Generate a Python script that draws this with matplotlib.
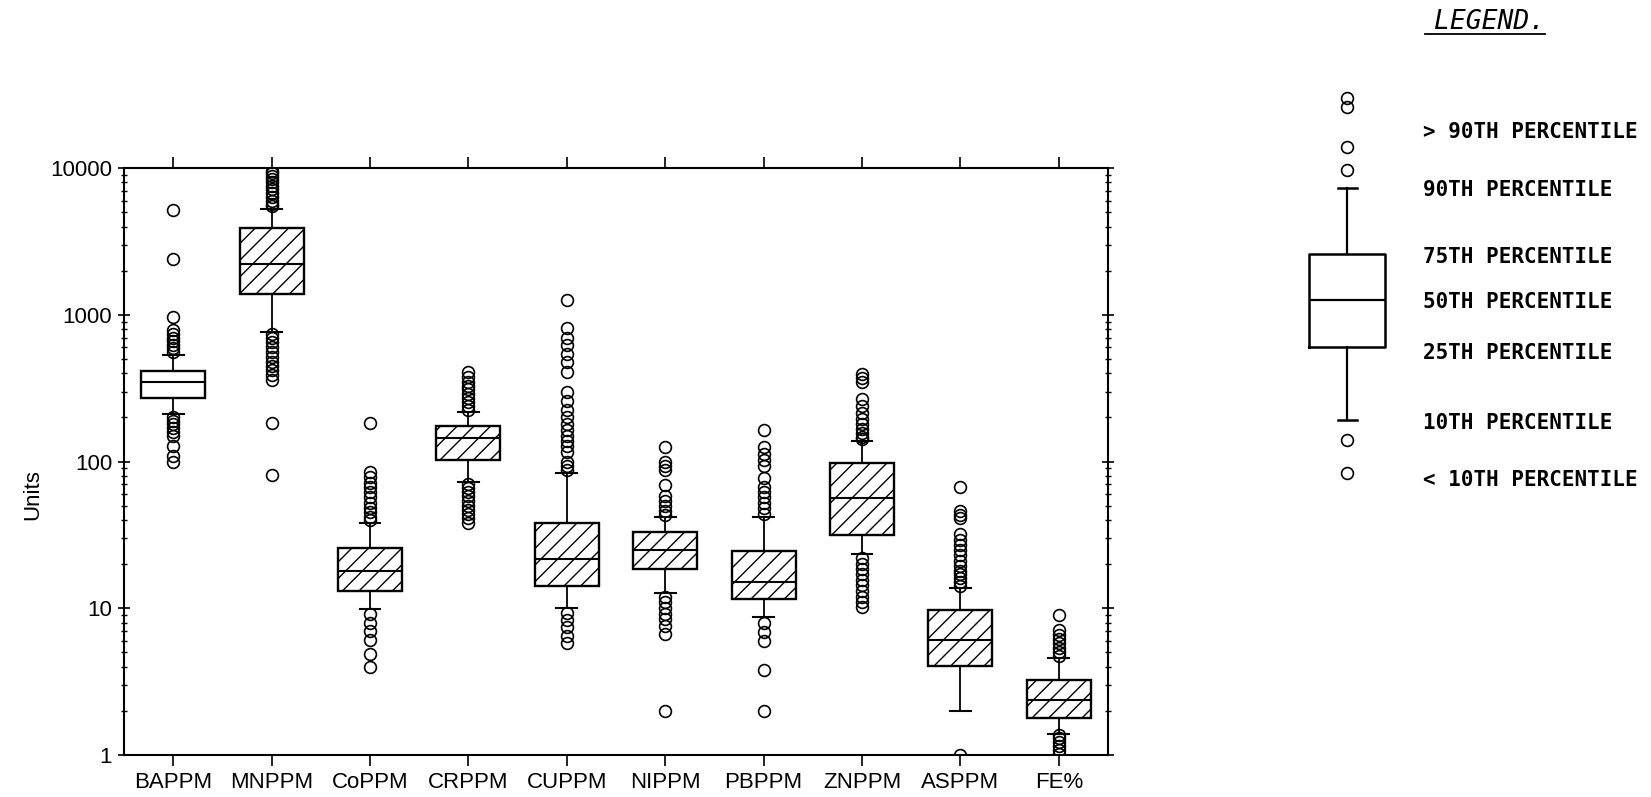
# Importar las bibliotecas necesarias
import matplotlib.pyplot as plt
from matplotlib.lines import Line2D
from matplotlib.ticker import FuncFormatter, LogLocator, NullFormatter

plt.rcParams['font.family'] = ['Liberation Sans', 'DejaVu Sans']
plt.rcParams['hatch.linewidth'] = 1.0

# Datos (percentiles por elemento)
categorias = ['BAPPM', 'MNPPM', 'CoPPM', 'CRPPM', 'CUPPM', 'NIPPM', 'PBPPM', 'ZNPPM', 'ASPPM', 'FE%']
p10 = [210, 760, 9.9, 73, 10.0, 12.7, 8.7, 23.3, 2.0, 1.4]
p25 = [270, 1380, 13.1, 102, 14.2, 18.5, 11.5, 31.4, 4.07, 1.79]
p50 = [349, 2220, 17.9, 144, 21.8, 24.9, 15.2, 56.7, 6.04, 2.37]
p75 = [415, 3890, 25.9, 175, 38.2, 33.0, 24.6, 97.4, 9.8, 3.27]
p90 = [530, 5300, 38.0, 217, 84, 42, 42, 138, 13.8, 4.58]
atipicos = [
    [5170, 2420, 960, 790, 740, 700, 660, 620, 590, 560, 200, 190, 180, 170, 160, 150, 128, 110, 100],
    [9600, 9200, 8800, 8400, 8000, 7600, 7200, 6800, 6400, 6000, 5700, 5500,
     740, 700, 650, 600, 560, 520, 480, 450, 420, 390, 360, 184, 81],
    [184, 85, 78, 72, 67, 62, 57, 52, 48, 45, 42, 40, 9.1, 8.0, 7.0, 6.1, 4.9, 4.0],
    [406, 380, 350, 330, 310, 290, 270, 255, 240, 225, 70, 66, 62, 58, 54, 50, 47, 44, 41, 38],
    [1255, 815, 700, 620, 540, 480, 410, 300, 260, 225, 200, 180, 165, 150, 138, 127, 117,
     100, 93, 87, 9.3, 8.3, 7.4, 6.5, 5.8],
    [125, 99, 93, 87, 69, 58, 54, 50, 46, 43, 12, 11, 10, 9.2, 8.4, 7.6, 6.7, 2.0],
    [163, 125, 112, 103, 93, 77, 67, 62, 57, 52, 48, 44, 7.9, 6.9, 6.0, 3.8, 2.0],
    [395, 370, 350, 265, 240, 215, 195, 180, 168, 157, 147, 142,
     21.9, 20, 18.5, 17, 15.6, 14.4, 13.2, 12, 11, 10.2],
    [67, 46, 43, 41, 32, 29, 27, 25, 23, 21, 19.5, 18, 17, 16, 15, 14.2, 1.0],
    [8.97, 7.1, 6.6, 6.2, 5.8, 5.4, 5.0, 4.7, 1.37, 1.3, 1.22, 1.15, 1.08, 1.02],
]

# Leyenda (caja esquematica, unidades arbitrarias)
leyenda_p = [65, 138, 185, 231, 297]
leyenda_atipicos = [387, 378, 338, 315, 45, 12]
leyenda_textos = ['> 90TH PERCENTILE', '90TH PERCENTILE', '75TH PERCENTILE', '50TH PERCENTILE',
                  '25TH PERCENTILE', '10TH PERCENTILE', '< 10TH PERCENTILE']
leyenda_y = [353, 295, 228, 183, 132, 62, 5]


def armar_stats(lo, q1, med, q3, hi, fl, etiqueta):
    return dict(whislo=lo, q1=q1, med=med, q3=q3, whishi=hi, fliers=fl, label=etiqueta)


fig = plt.figure(figsize=(16.51, 7.97), dpi=100)
ax = fig.add_axes([0.0751, 0.0527, 0.5960, 0.7363])

stats = [armar_stats(p10[i], p25[i], p50[i], p75[i], p90[i], atipicos[i], categorias[i])
         for i in range(len(categorias))]

estilo_flier = dict(marker='o', markerfacecolor='none', markeredgecolor='black',
                    markersize=8.5, markeredgewidth=1.2, linestyle='none')

res = ax.bxp(stats, positions=range(1, len(categorias) + 1), widths=0.65, capwidths=0.21,
             patch_artist=True,
             boxprops=dict(facecolor='white', edgecolor='black', linewidth=1.7),
             medianprops=dict(color='black', linewidth=1.5),
             whiskerprops=dict(color='black', linewidth=1.3),
             capprops=dict(color='black', linewidth=1.5),
             flierprops=estilo_flier)

# La primera caja no lleva rayado
for i, caja in enumerate(res['boxes']):
    if i > 0:
        caja.set_hatch('//')

ax.set_yscale('log')
ax.set_ylim(1, 10000)
ax.set_xlim(0.5, len(categorias) + 0.5)
ax.yaxis.set_major_locator(LogLocator(base=10))
ax.yaxis.set_minor_locator(LogLocator(base=10, subs=range(2, 10)))
ax.yaxis.set_major_formatter(FuncFormatter(lambda v, p: f'{v:g}'))
ax.yaxis.set_minor_formatter(NullFormatter())

ax.tick_params(axis='x', direction='out', top=True, length=8, width=1.2, labelsize=16, pad=4)
ax.tick_params(axis='y', which='major', direction='inout', right=True, length=9, width=1.2,
               labelsize=16, pad=4)
ax.tick_params(axis='y', which='minor', direction='inout', right=True, length=5, width=1.0)
for lado in ax.spines.values():
    lado.set_linewidth(1.5)

ax.set_ylabel('Units', fontsize=16)
ax.yaxis.set_label_coords(-0.082, 0.443)

# Leyenda dibujada como una caja aparte
ax_ley = fig.add_axes([0.7813, 0.3915, 0.0697, 0.5019])
stats_ley = [dict(whislo=leyenda_p[0], q1=leyenda_p[1], med=leyenda_p[2], q3=leyenda_p[3],
                  whishi=leyenda_p[4], fliers=leyenda_atipicos)]
ax_ley.bxp(stats_ley, positions=[1], widths=0.66, capwidths=0.17,
           boxprops=dict(color='black', linewidth=1.8),
           medianprops=dict(color='black', linewidth=1.6),
           whiskerprops=dict(color='black', linewidth=1.6),
           capprops=dict(color='black', linewidth=1.8),
           flierprops=estilo_flier)
ax_ley.set_xlim(0.5, 1.5)
ax_ley.set_ylim(0, 400)
ax_ley.axis('off')

for texto, y in zip(leyenda_textos, leyenda_y):
    ax_ley.text(1.657, y, texto, fontsize=15, family='DejaVu Sans Mono', weight='bold',
                va='center', ha='left', clip_on=False)

fig.text(0.9025, 0.972, 'LEGEND.', fontsize=19, family='DejaVu Sans Mono', style='oblique',
         ha='center', va='center')
fig.add_artist(Line2D([0.8631, 0.9358], [0.9573, 0.9573], color='black', linewidth=1.3))

fig.savefig('out.png', dpi=100)
